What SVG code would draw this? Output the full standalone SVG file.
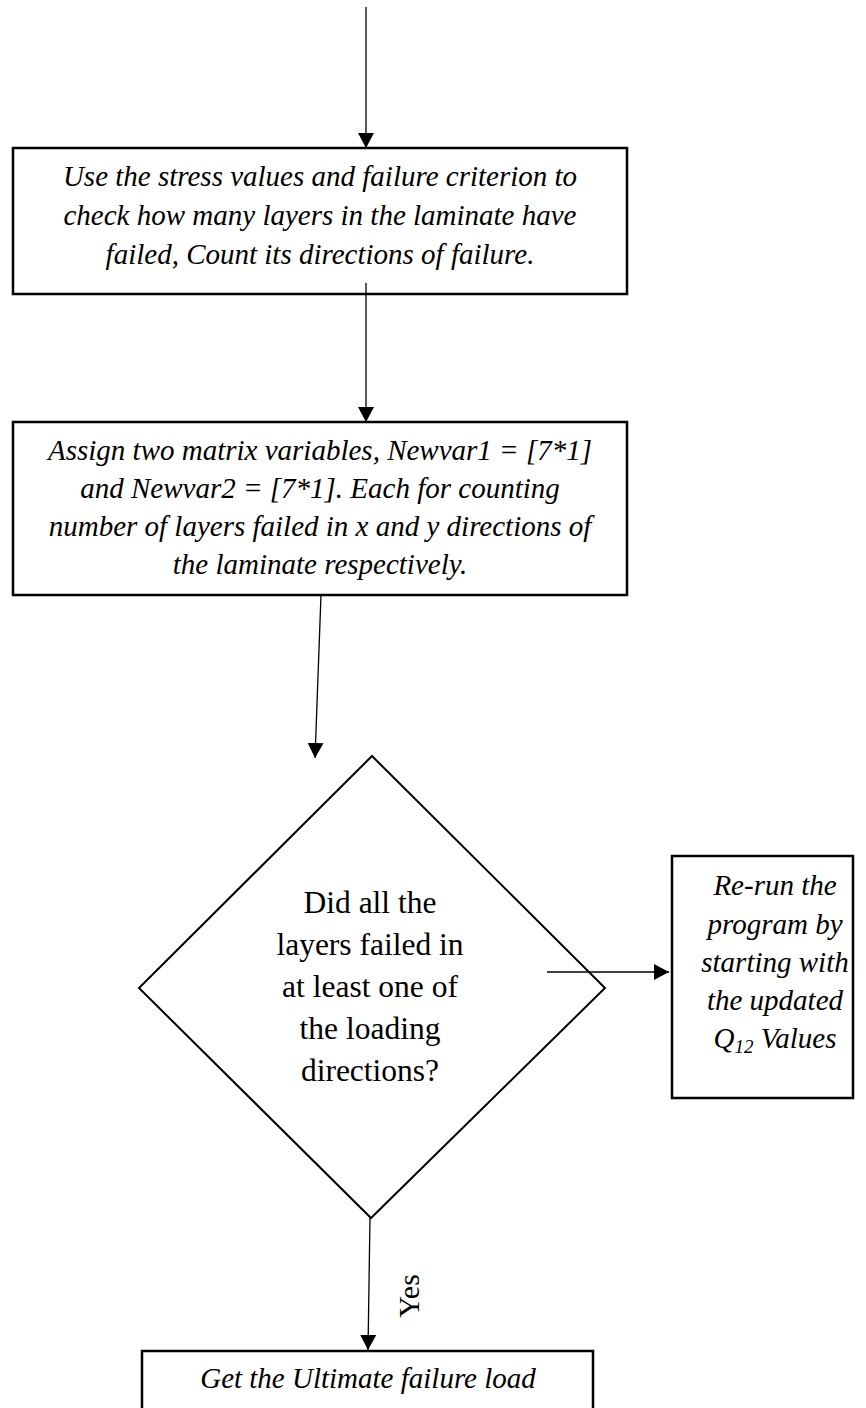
<svg xmlns="http://www.w3.org/2000/svg" width="866" height="1408" viewBox="0 0 866 1408">
<defs>
<marker id="ah" markerUnits="userSpaceOnUse" markerWidth="16" markerHeight="16" viewBox="0 0 16 16" refX="15" refY="8" orient="auto">
<path d="M0,0 L15,8 L0,16 Z" fill="#000"/>
</marker>
<style>
.box{fill:#fff;stroke:#000;stroke-width:2.5}
.dia{fill:#fff;stroke:#000;stroke-width:2}
.con{fill:none;stroke:#000;stroke-width:1.3;marker-end:url(#ah)}
.it{font-family:"Liberation Serif","Times New Roman",serif;font-style:italic;font-size:29px;fill:#000;text-anchor:middle}
.up{font-family:"Liberation Serif","Times New Roman",serif;font-size:31.5px;fill:#000;text-anchor:middle}
</style>
</defs>
<rect width="866" height="1408" fill="#fff"/>
<g id="box1">
<rect class="box" x="13" y="148" width="614" height="146"/>
<text class="it" x="320" y="186">Use the stress values and failure criterion to</text>
<text class="it" x="320" y="225">check how many layers in the laminate have</text>
<text class="it" x="320" y="264">failed, Count its directions of failure.</text>
</g>
<g id="box2">
<rect class="box" x="13" y="422" width="614" height="173"/>
<text class="it" x="320" y="460">Assign two matrix variables, Newvar1 = [7*1]</text>
<text class="it" x="320" y="498">and Newvar2 = [7*1]. Each for counting</text>
<text class="it" x="320" y="536">number of layers failed in x and y directions of</text>
<text class="it" x="320" y="574">the laminate respectively.</text>
</g>
<g id="decision">
<polygon class="dia" points="372,756 605,988 371,1218 139,988"/>
<text class="up" x="370" y="913">Did all the</text>
<text class="up" x="370" y="955">layers failed in</text>
<text class="up" x="370" y="997">at least one of</text>
<text class="up" x="370" y="1039">the loading</text>
<text class="up" x="370" y="1081">directions?</text>
</g>
<g id="rerun">
<rect class="box" x="672" y="856" width="181" height="242"/>
<text class="it" x="775" y="895">Re-run the</text>
<text class="it" x="775" y="934">program by</text>
<text class="it" x="775" y="972">starting with</text>
<text class="it" x="775" y="1010">the updated</text>
<text class="it" x="775" y="1048">Q<tspan font-size="19" dy="5">12</tspan><tspan dy="-5"> Values</tspan></text>
</g>
<g id="final">
<rect class="box" x="142" y="1351" width="451" height="80"/>
<text class="it" x="368" y="1388">Get the Ultimate failure load</text>
</g>
<g id="connectors">
<line class="con" x1="366" y1="7" x2="366" y2="148"/>
<line class="con" x1="366" y1="283" x2="366" y2="422"/>
<line class="con" x1="321" y1="595" x2="315" y2="758"/>
<line class="con" x1="547" y1="972" x2="669" y2="972"/>
<line class="con" x1="370" y1="1218" x2="368" y2="1350"/>
<text x="408" y="1296" transform="rotate(-90 408 1296)" font-family="Liberation Serif,'Times New Roman',serif" font-size="30" text-anchor="middle" dominant-baseline="central">Yes</text>
</g>
</svg>
